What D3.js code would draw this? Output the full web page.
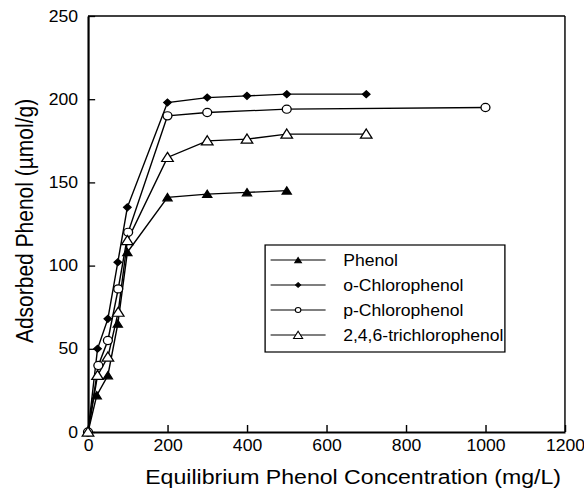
<!DOCTYPE html>
<html>
<head>
<meta charset="utf-8">
<script src="https://cdn.jsdelivr.net/npm/d3@7"></script>
<style>
  body { margin: 0; background: #fff; }
  svg { display: block; }
  text { font-family: "Liberation Sans", Arial, sans-serif; fill: #000; }
</style>
</head>
<body>
<svg id="chart"></svg>
<script>
// data
const phenolX = [0, 22, 50, 75, 99, 200, 300, 400, 500];
const phenolY = [0, 22, 34, 65, 108, 141, 143, 144, 145];

const oChloroX = [0, 24, 50, 75, 99, 200, 300, 400, 500, 700];
const oChloroY = [0, 50, 68, 102, 135, 198, 201, 202, 203, 203];

const pChloroX = [0, 26, 50, 76, 101, 200, 300, 500, 1000];
const pChloroY = [0, 40, 55, 86, 120, 190, 192, 194, 195];

const triX = [0, 24, 50, 76, 99, 200, 300, 400, 500, 700];
const triY = [0, 34, 45, 72, 115, 165, 175, 176, 179, 179];

const seriesNames = ["Phenol", "o-Chlorophenol", "p-Chlorophenol", "2,4,6-trichlorophenol"];
const xTicks = [0, 200, 400, 600, 800, 1000, 1200];
const yTicks = [0, 50, 100, 150, 200, 250];

// the original picture is a bit wider than tall, so draw in a narrower box and stretch
const stretch = 1.1;
const W = 584, H = 498;
const iw = W / stretch;

const margin = {top: 16, right: iw - 513.6, bottom: H - 432, left: 80};
const width = iw - margin.left - margin.right,
    height = H - margin.top - margin.bottom;

var svg = d3.select("#chart")
    .attr("width", W)
    .attr("height", H)
    .attr("viewBox", `0 0 ${iw} ${H}`)
    .attr("preserveAspectRatio", "none");

var x = d3.scaleLinear().domain([0, 1200]).range([0, width]);
var y = d3.scaleLinear().domain([0, 250]).range([height, 0]);

var g = svg.append("g")
    .attr("transform", `translate(${margin.left},${margin.top})`);

// frame: top and right thinner
g.append("line").attr("x1", 0).attr("x2", width).attr("y1", 0).attr("y2", 0)
    .attr("stroke", "#000").attr("stroke-width", 1.3);
g.append("line").attr("x1", width).attr("x2", width).attr("y1", 0).attr("y2", height)
    .attr("stroke", "#000").attr("stroke-width", 1.3);

// x axis, ticks pointing inward
var xAxis = g.append("g")
    .attr("transform", `translate(0,${height})`)
    .call(d3.axisBottom(x).tickValues(xTicks).tickFormat(d3.format("d"))
        .tickSizeInner(-7).tickSizeOuter(0).tickPadding(10));
xAxis.select(".domain").attr("stroke-width", 2);
xAxis.selectAll(".tick line").attr("stroke-width", 1.3);
xAxis.selectAll(".tick text")
    .attr("font-size", 16)
    .attr("font-family", "Liberation Sans, Arial, sans-serif")
    .attr("dy", "0.71em")
    .attr("y", 8);

var yAxis = g.append("g")
    .call(d3.axisLeft(y).tickValues(yTicks).tickFormat(d3.format("d"))
        .tickSizeInner(-6.5).tickSizeOuter(0).tickPadding(9));
yAxis.select(".domain").attr("stroke-width", 2);
yAxis.selectAll(".tick line").attr("stroke-width", 1.3);
yAxis.selectAll(".tick text")
    .attr("font-size", 16)
    .attr("font-family", "Liberation Sans, Arial, sans-serif")
    .attr("x", -9);

// axis titles
svg.append("text")
    .attr("text-anchor", "middle")
    .attr("x", 321)
    .attr("y", 484)
    .attr("font-size", 21)
    .text("Equilibrium Phenol Concentration (mg/L)");

svg.append("text")
    .attr("text-anchor", "middle")
    .attr("transform", "translate(30,221) rotate(-90)")
    .attr("font-size", 21)
    .text("Adsorbed Phenol (µmol/g)");

// series
const diamond = d3.symbolDiamond2 || d3.symbolDiamond;
const series = [
    {name: seriesNames[0], xs: phenolX, ys: phenolY, sym: d3.symbolTriangle, size: 30, fill: "#000", lsize: 16},
    {name: seriesNames[1], xs: oChloroX, ys: oChloroY, sym: diamond, size: 30, fill: "#000", lsize: 14},
    {name: seriesNames[2], xs: pChloroX, ys: pChloroY, sym: d3.symbolCircle, size: 52, fill: "#fff", lsize: 20},
    {name: seriesNames[3], xs: triX, ys: triY, sym: d3.symbolTriangle, size: 48, fill: "#fff", lsize: 30}
];

var line = d3.line().x(d => x(d[0])).y(d => y(d[1]));

series.forEach(s => {
    const pts = s.xs.map((v, i) => [v, s.ys[i]]);
    g.append("path")
        .datum(pts)
        .attr("fill", "none")
        .attr("stroke", "#000")
        .attr("stroke-width", 1.3)
        .attr("d", line);
});

series.forEach(s => {
    const pts = s.xs.map((v, i) => [v, s.ys[i]]);
    const off = s.sym === d3.symbolTriangle ? 1 : 0;
    g.selectAll(null)
        .data(pts)
        .enter()
        .append("path")
        .attr("transform", d => `translate(${x(d[0])},${y(d[1]) + off})`)
        .attr("d", d3.symbol().type(s.sym).size(s.size))
        .attr("fill", s.fill)
        .attr("stroke", "#000")
        .attr("stroke-width", 1.2);
});

// legend
var legend = svg.append("g").attr("transform", "translate(241,245)");
legend.append("rect")
    .attr("width", 218)
    .attr("height", 107)
    .attr("fill", "#fff")
    .attr("stroke", "#000")
    .attr("stroke-width", 1.2);

series.forEach((s, i) => {
    const row = legend.append("g").attr("transform", `translate(0,${15 + i * 25})`);
    row.append("line")
        .attr("x1", 5).attr("x2", 55)
        .attr("stroke", "#000").attr("stroke-width", 1.2);
    row.append("path")
        .attr("transform", `translate(30,${s.sym === d3.symbolTriangle ? 1 : 0})`)
        .attr("d", d3.symbol().type(s.sym).size(s.lsize))
        .attr("fill", s.fill)
        .attr("stroke", "#000")
        .attr("stroke-width", 1);
    row.append("text")
        .attr("x", 71)
        .attr("y", 6)
        .attr("font-size", 16)
        .text(s.name);
});
</script>
</body>
</html>
